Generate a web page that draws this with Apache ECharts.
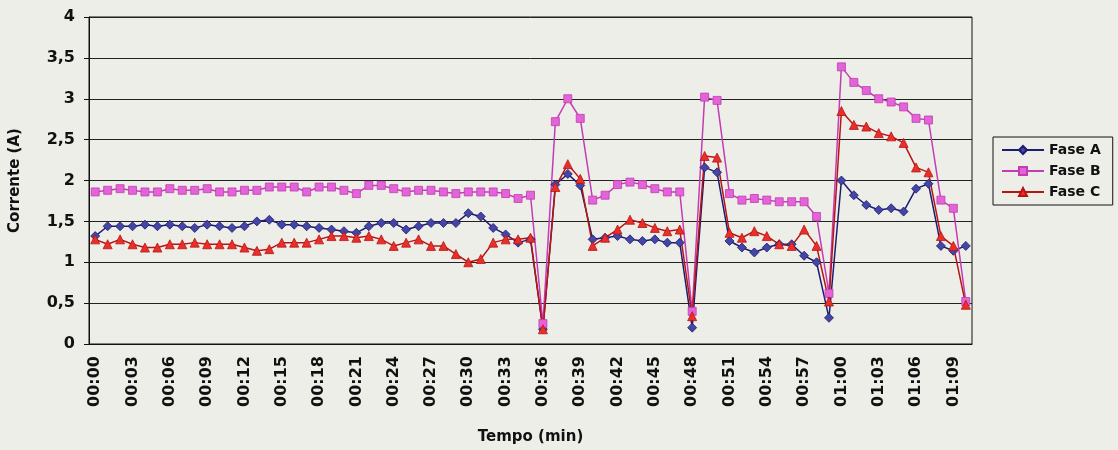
<!DOCTYPE html>
<html>
<head>
	<meta charset="utf-8">
	<title>Corrente por fase</title>
</head>
<body style="margin:0;background:#eeeee9;">
	<div style="width:1118px;height:450px;" id="chart1"></div>

	<script src="https://cdn.jsdelivr.net/npm/echarts@6/dist/echarts.min.js"></script>
	<script>
	// tempo (min)
	var tempo = ['00:00','00:01','00:02','00:03','00:04','00:05','00:06','00:07','00:08','00:09',
		'00:10','00:11','00:12','00:13','00:14','00:15','00:16','00:17','00:18','00:19',
		'00:20','00:21','00:22','00:23','00:24','00:25','00:26','00:27','00:28','00:29',
		'00:30','00:31','00:32','00:33','00:34','00:35','00:36','00:37','00:38','00:39',
		'00:40','00:41','00:42','00:43','00:44','00:45','00:46','00:47','00:48','00:49',
		'00:50','00:51','00:52','00:53','00:54','00:55','00:56','00:57','00:58','00:59',
		'01:00','01:01','01:02','01:03','01:04','01:05','01:06','01:07','01:08','01:09','01:10'];

	var faseA = [1.32,1.44,1.44,1.44,1.46,1.44,1.46,1.44,1.42,1.46,
		1.44,1.42,1.44,1.50,1.52,1.46,1.46,1.44,1.42,1.40,
		1.38,1.36,1.44,1.48,1.48,1.40,1.44,1.48,1.48,1.48,
		1.60,1.56,1.42,1.34,1.24,1.28,0.18,1.95,2.08,1.94,
		1.28,1.30,1.32,1.28,1.26,1.28,1.24,1.24,0.20,2.16,
		2.10,1.26,1.18,1.12,1.18,1.22,1.22,1.08,1.00,0.32,
		2.00,1.82,1.70,1.64,1.66,1.62,1.90,1.96,1.20,1.14,1.20];

	var faseB = [1.86,1.88,1.90,1.88,1.86,1.86,1.90,1.88,1.88,1.90,
		1.86,1.86,1.88,1.88,1.92,1.92,1.92,1.86,1.92,1.92,
		1.88,1.84,1.94,1.94,1.90,1.86,1.88,1.88,1.86,1.84,
		1.86,1.86,1.86,1.84,1.78,1.82,0.25,2.72,3.00,2.76,
		1.76,1.82,1.95,1.98,1.95,1.90,1.86,1.86,0.40,3.02,
		2.98,1.84,1.76,1.78,1.76,1.74,1.74,1.74,1.56,0.62,
		3.39,3.20,3.10,3.00,2.96,2.90,2.76,2.74,1.76,1.66,0.52];

	var faseC = [1.28,1.22,1.28,1.22,1.18,1.18,1.22,1.22,1.24,1.22,
		1.22,1.22,1.18,1.14,1.16,1.24,1.24,1.24,1.28,1.32,
		1.32,1.30,1.32,1.28,1.20,1.24,1.28,1.20,1.20,1.10,
		1.00,1.04,1.24,1.28,1.28,1.30,0.18,1.92,2.20,2.02,
		1.20,1.30,1.40,1.52,1.48,1.42,1.38,1.40,0.34,2.30,
		2.28,1.36,1.30,1.38,1.32,1.22,1.20,1.40,1.20,0.52,
		2.85,2.68,2.66,2.58,2.54,2.46,2.16,2.10,1.32,1.20,0.48];

	// fonte larga, parecida com o original esticado
	var font = 'DejaVu Sans, Verdana, sans-serif';

	function serie(nome, dados, simbolo, tamanho, corLinha, corPonto) {
		return {
			name: nome,
			type: 'line',
			data: dados,
			symbol: simbolo,
			symbolSize: tamanho,
			showAllSymbol: true,
			lineStyle: { color: corLinha, width: 1.5 },
			itemStyle: { color: corPonto, borderColor: corLinha, borderWidth: 0.8 }
		};
	}

	var myChart = echarts.init(document.getElementById('chart1'));

	var option = {
		backgroundColor: '#eeeee9',
		animation: false,
		grid: {
			left: 88, right: 146, top: 17, bottom: 100,
			show: true, borderColor: '#111', borderWidth: 1, backgroundColor: 'transparent'
		},
		legend: {
			orient: 'vertical',
			left: 993, top: 137,
			itemWidth: 42, itemHeight: 10, itemGap: 7,
			padding: [6, 12, 6, 8],
			borderColor: '#111', borderWidth: 1,
			textStyle: { fontFamily: font, fontWeight: 'bold', fontSize: 14, color: '#111' },
			data: ['Fase A', 'Fase B', 'Fase C']
		},
		xAxis: {
			type: 'category',
			data: tempo,
			boundaryGap: true,
			name: 'Tempo (min)',
			nameLocation: 'middle',
			nameGap: 86,
			nameTextStyle: { fontFamily: font, fontWeight: 'bold', fontSize: 15, color: '#111' },
			axisLine: { lineStyle: { color: '#111' } },
			axisTick: { interval: 0, length: 5, lineStyle: { color: '#111' } },
			axisLabel: {
				interval: 2, rotate: 90, margin: 12,
				fontFamily: font, fontWeight: 'bold', fontSize: 16, color: '#111'
			}
		},
		yAxis: {
			type: 'value',
			min: 0, max: 4, interval: 0.5,
			name: 'Corrente (A)',
			nameLocation: 'middle',
			nameGap: 66,
			nameTextStyle: { fontFamily: font, fontWeight: 'bold', fontSize: 15, color: '#111' },
			axisLine: { show: true, lineStyle: { color: '#111' } },
			axisTick: { show: true, length: 5, lineStyle: { color: '#111' } },
			axisLabel: {
				margin: 14,
				fontFamily: font, fontWeight: 'bold', fontSize: 16, color: '#111',
				formatter: function (v) { return String(v).replace('.', ','); }
			},
			splitLine: { lineStyle: { color: '#222', width: 1 } }
		},
		series: [
			serie('Fase A', faseA, 'diamond', 9, '#1c1c70', '#4545a5'),
			serie('Fase B', faseB, 'rect', 8, '#c23cb4', '#e264d6'),
			serie('Fase C', faseC, 'triangle', 9, '#b81414', '#e8302a')
		]
	};

	myChart.setOption(option);
	</script>
</body>
</html>
